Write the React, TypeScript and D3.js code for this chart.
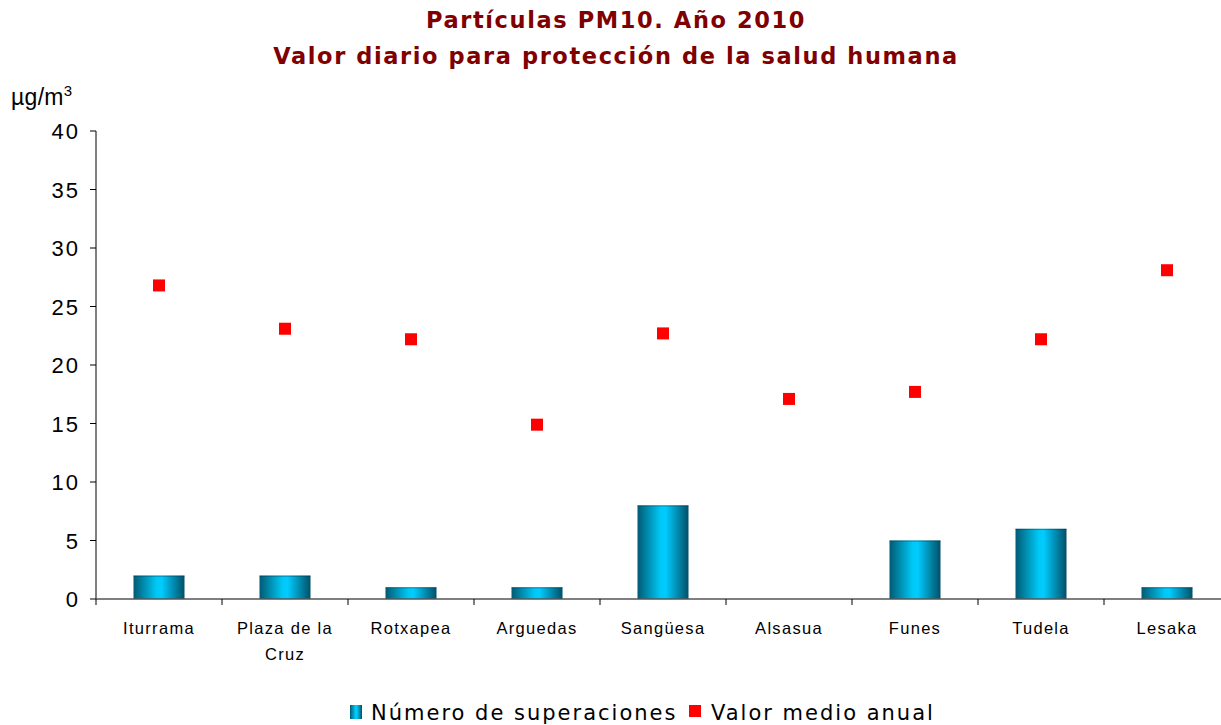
import React from 'react';
import * as d3 from 'd3';

const stations = ['Iturrama', 'Plaza de la|Cruz', 'Rotxapea', 'Arguedas', 'Sangüesa', 'Alsasua', 'Funes', 'Tudela', 'Lesaka'];
const exceedances = [2, 2, 1, 1, 8, 0, 5, 6, 1];
const annualMean = [26.8, 23.1, 22.2, 14.9, 22.7, 17.1, 17.7, 22.2, 28.1];
const yTicks = [0, 5, 10, 15, 20, 25, 30, 35, 40];

const W = 1221;
const H = 725;

export default function App() {
  const x = d3.scaleBand<string>().domain(stations).range([96, 1230]).paddingInner(0).paddingOuter(0);
  const y = d3.scaleLinear().domain([0, 40]).range([599, 131]);
  const barW = 51;
  const bounds = d3.range(stations.length + 1).map(i => 96 + i * x.step());
  const arial = "'Liberation Sans', Arial, sans-serif";
  const verdana = "'DejaVu Sans', Verdana, sans-serif";

  return (
    <svg width={W} height={H} style={{position: 'absolute', left: 0, top: 0}}>
      <defs>
        <linearGradient id="barGrad" x1="0" x2="1" y1="0" y2="0">
          <stop offset="0%" stopColor="#005a73" />
          <stop offset="45%" stopColor="#00c8f5" />
          <stop offset="55%" stopColor="#00ccff" />
          <stop offset="100%" stopColor="#005068" />
        </linearGradient>
      </defs>
      <rect width={W} height={H} fill="#fff" />

      <g fontFamily={verdana} fontWeight="bold" fontSize={22.5} fill="#800000" textAnchor="middle" letterSpacing={1.6}>
        <text x={616} y={28}>Partículas PM10. Año 2010</text>
        <text x={616} y={64}>Valor diario para protección de la salud humana</text>
      </g>

      <text x={11} y={105} fontFamily={arial} fontSize={23} fill="#000" letterSpacing={0.3}>
        µg/m<tspan fontSize={15} dy={-9}>3</tspan>
      </text>

      {/* y axis */}
      <line x1={96} x2={96} y1={131} y2={599} stroke="#000" strokeWidth={1} />
      {yTicks.map(t => (
        <g key={t}>
          <line x1={90} x2={96} y1={y(t)} y2={y(t)} stroke="#000" />
          <text x={80} y={y(t) + 8} textAnchor="end" fontFamily={arial} fontSize={22} letterSpacing={2} fill="#000">{t}</text>
        </g>
      ))}

      {/* bars */}
      {stations.map((s, i) => exceedances[i] > 0 && (
        <g key={s}>
          <rect x={x(s)! + x.bandwidth() / 2 - barW / 2} y={y(exceedances[i])} width={barW} height={y(0) - y(exceedances[i])} fill="url(#barGrad)" />
          <line x1={x(s)! + x.bandwidth() / 2 - barW / 2} x2={x(s)! + x.bandwidth() / 2 + barW / 2} y1={y(exceedances[i]) + 0.5} y2={y(exceedances[i]) + 0.5} stroke="#00344a" strokeOpacity={0.5} />
        </g>
      ))}

      {/* x axis */}
      <line x1={96} x2={1230} y1={599} y2={599} stroke="#555" strokeWidth={1.5} />
      {bounds.map((b, i) => (
        <line key={i} x1={b} x2={b} y1={599} y2={605} stroke="#000" />
      ))}
      {stations.map(s => {
        const lines = s.split('|');
        const cx = x(s)! + x.bandwidth() / 2;
        return (
          <text key={s} x={cx} y={634} textAnchor="middle" fontFamily={arial} fontSize={16.5} letterSpacing={1.3} fill="#000">
            {lines.map((l, j) => <tspan key={j} x={cx} dy={j === 0 ? 0 : 26}>{l}</tspan>)}
          </text>
        );
      })}

      {/* points */}
      {stations.map((s, i) => (
        <rect key={s} x={x(s)! + x.bandwidth() / 2 - 6} y={y(annualMean[i]) - 6} width={12} height={12} fill="#ff0000" />
      ))}

      {/* legend */}
      <g fontFamily={verdana} fontSize={21} fill="#000" letterSpacing={2}>
        <rect x={350} y={705} width={12} height={14} fill="url(#barGrad)" />
        <text x={371} y={720}>Número de superaciones</text>
        <rect x={689} y={705} width={12} height={12} fill="#ff0000" />
        <text x={711} y={720}>Valor medio anual</text>
      </g>
    </svg>
  );
}
